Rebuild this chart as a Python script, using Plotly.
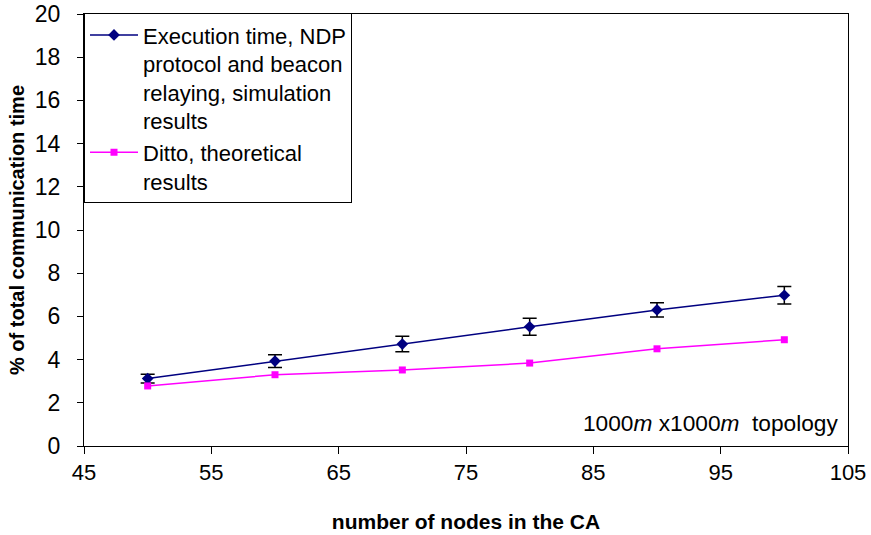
import plotly.graph_objects as go

nodes = [50, 60, 70, 80, 90, 100]
sim_exec = [3.12, 3.93, 4.72, 5.52, 6.30, 6.98]
sim_err = [0.20, 0.30, 0.36, 0.39, 0.33, 0.41]
theory = [2.78, 3.30, 3.52, 3.84, 4.50, 4.92]

x_ticks = [45, 55, 65, 75, 85, 95, 105]
y_ticks = [0, 2, 4, 6, 8, 10, 12, 14, 16, 18, 20]

name_sim = "Execution time, NDP<br>protocol and beacon<br>relaying, simulation<br>results"
name_theory = "Ditto, theoretical<br>results"

FONT = "Liberation Sans, Arial"

fig = go.Figure()
fig.add_trace(go.Scatter(
    x=nodes, y=sim_exec, name=name_sim, mode="lines+markers",
    line=dict(color="#000080", width=1.5),
    marker=dict(symbol="diamond", size=9, color="#000080"),
    error_y=dict(type="data", array=sim_err, visible=True, color="black", thickness=1.5, width=7),
))
fig.add_trace(go.Scatter(
    x=nodes, y=theory, name=name_theory, mode="lines+markers",
    line=dict(color="#FF00FF", width=1.5),
    marker=dict(symbol="square", size=7, color="#FF00FF"),
))

fig.add_annotation(
    x=1, xref="paper", xanchor="right", xshift=-8,
    y=1.08, yref="y", yanchor="middle",
    text="1000<i>m</i> x1000<i>m</i>  topology", showarrow=False,
    font=dict(family=FONT, size=22.7, color="black"),
)

fig.update_layout(
    width=871, height=535,
    margin=dict(l=84, r=23, t=14, b=89),
    paper_bgcolor="white", plot_bgcolor="white",
    font=dict(family=FONT, size=22, color="black"),
    showlegend=True,
    legend=dict(
        x=0, y=1.002, xanchor="left", yanchor="top",
        bgcolor="white", bordercolor="black", borderwidth=1,
        font=dict(size=22), valign="top", tracegroupgap=0, itemwidth=48,
    ),
    xaxis=dict(
        range=[45, 105], tickvals=x_ticks, ticktext=[str(v) for v in x_ticks],
        automargin=False,
        showgrid=False, zeroline=False, showline=True, linecolor="black", linewidth=1,
        mirror=True, ticks="outside", ticklen=7, tickcolor="black",
        tickfont=dict(size=22),
        title=dict(text="<b>number of nodes in the CA</b>", standoff=29,
                   font=dict(size=21)),
    ),
    yaxis=dict(
        range=[0, 20], tickvals=y_ticks,
        automargin=False,
        showgrid=False, zeroline=False, showline=True, linecolor="black", linewidth=1,
        mirror=True, ticks="outside", ticklen=6, tickcolor="black",
        tickfont=dict(size=23), ticklabelstandoff=12,
        title=dict(text="<b>% of total communication time</b>", standoff=4,
                   font=dict(size=20)),
    ),
)

fig.write_html("out.html", config={"displayModeBar": False},
               post_script="document.body.style.margin='0';")
